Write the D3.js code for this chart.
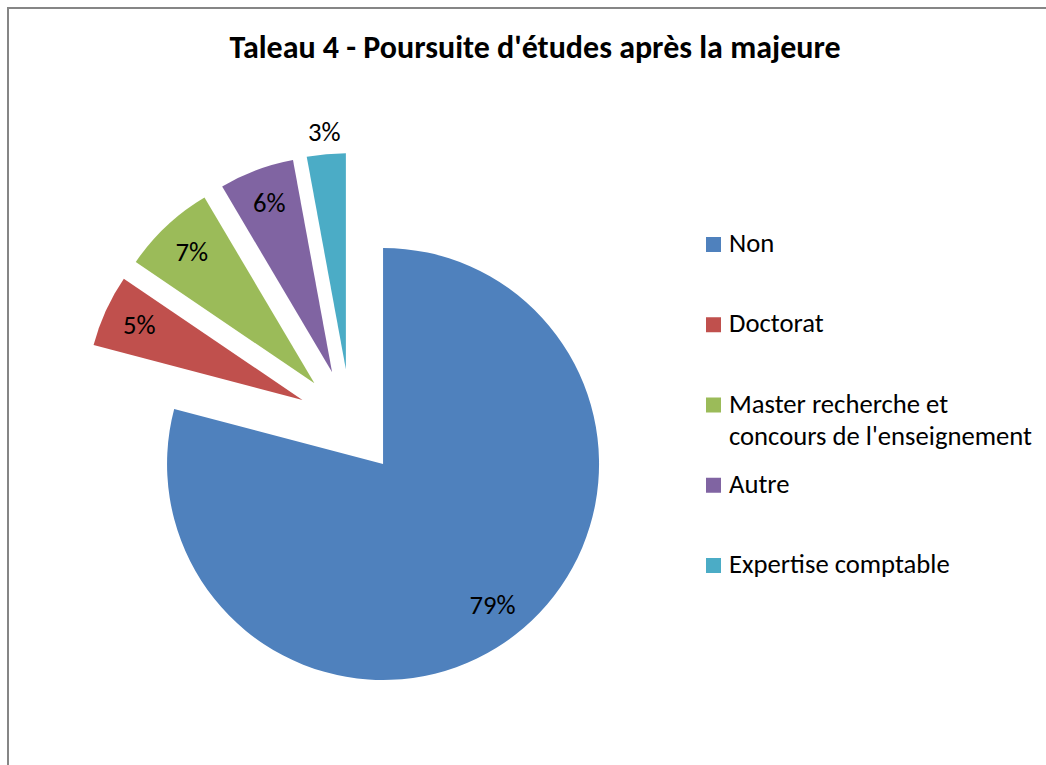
<!DOCTYPE html>
<html>
<head>
<meta charset="utf-8">
<script src="https://cdn.jsdelivr.net/npm/d3@7"></script>
<style>
    body { margin: 0; background: #fff; }
    text { font-family: Carlito, Calibri, Lato, sans-serif; fill: #000; }
</style>
</head>
<body>
<div id="chart"></div>
<script>
// data (percent)
var categories = ["Non", "Doctorat", "Master recherche et concours de l'enseignement", "Autre", "Expertise comptable"];
var values = [79.1, 5.4, 7.0, 5.6, 2.9];
var colors = ["#4F81BD", "#C0504D", "#9BBB59", "#8064A2", "#4BACC6"];
var title = "Taleau 4 - Poursuite d'études après la majeure";

var width = 1046,
    height = 765,
    radius = 216,
    explode = 53,
    cx = 350.7,
    cy = 422;

var svg = d3.select("#chart")
    .append("svg")
    .attr("width", width)
    .attr("height", height);

// chart frame, runs off the right and bottom edges
svg.append("rect")
    .attr("x", 8)
    .attr("y", 8)
    .attr("width", width + 20)
    .attr("height", height + 20)
    .attr("fill", "none")
    .attr("stroke", "#868686")
    .attr("stroke-width", 2);

svg.append("text")
    .attr("x", 535)
    .attr("y", 58)
    .attr("text-anchor", "middle")
    .style("font-size", "32px")
    .style("font-weight", "bold")
    .text(title);

var data = categories.map(function (c, i) {
    return {name: c, value: values[i], color: colors[i]};
});

var pie = d3.pie()
    .sort(null)
    .value(function (d) { return d.value; });

var arc = d3.arc()
    .innerRadius(0)
    .outerRadius(radius);

var total = d3.sum(values);

var slices = svg.append("g")
    .attr("transform", "translate(" + cx + "," + cy + ")")
    .selectAll("g")
    .data(pie(data))
    .enter()
    .append("g")
    .attr("transform", function (d) {
        var mid = (d.startAngle + d.endAngle) / 2;
        return "translate(" + (Math.sin(mid) * explode) + "," + (-Math.cos(mid) * explode) + ")";
    });

slices.append("path")
    .attr("d", arc)
    .attr("fill", function (d) { return d.data.color; });

// labels inside the slice, small slices get theirs outside
slices.append("text")
    .attr("transform", function (d) {
        var mid = (d.startAngle + d.endAngle) / 2;
        var pct = d.data.value / total * 100;
        var r = pct < 4 ? radius + 21 : radius * 0.83;
        return "translate(" + (Math.sin(mid) * r) + "," + (-Math.cos(mid) * r) + ")";
    })
    .attr("text-anchor", "middle")
    .attr("dy", "0.3em")
    .style("font-size", "26.67px")
    .text(function (d) { return Math.round(d.data.value / total * 100) + "%"; });

// legend, one row per category (y = first text baseline)
var ly = d3.scalePoint()
    .domain(categories)
    .range([252, 573]);

var legend = svg.append("g")
    .selectAll("g")
    .data(data)
    .enter()
    .append("g")
    .attr("transform", function (d) { return "translate(706," + ly(d.name) + ")"; });

legend.append("rect")
    .attr("y", -15)
    .attr("width", 15)
    .attr("height", 15)
    .attr("fill", function (d) { return d.color; });

var maxW = 310;
legend.append("text")
    .style("font-size", "26.67px")
    .each(function (d) {
        var t = d3.select(this);
        var words = d.name.split(" "), line = [], lineNo = 0;
        var tspan = t.append("tspan").attr("x", 23).attr("y", 0);
        words.forEach(function (w) {
            line.push(w);
            tspan.text(line.join(" "));
            if (tspan.node().getComputedTextLength() > maxW && line.length > 1 && lineNo === 0) {
                line.pop();
                tspan.text(line.join(" "));
                line = [w];
                lineNo++;
                tspan = t.append("tspan").attr("x", 23).attr("dy", "32.5px").text(w);
            }
        });
    });
</script>
</body>
</html>
